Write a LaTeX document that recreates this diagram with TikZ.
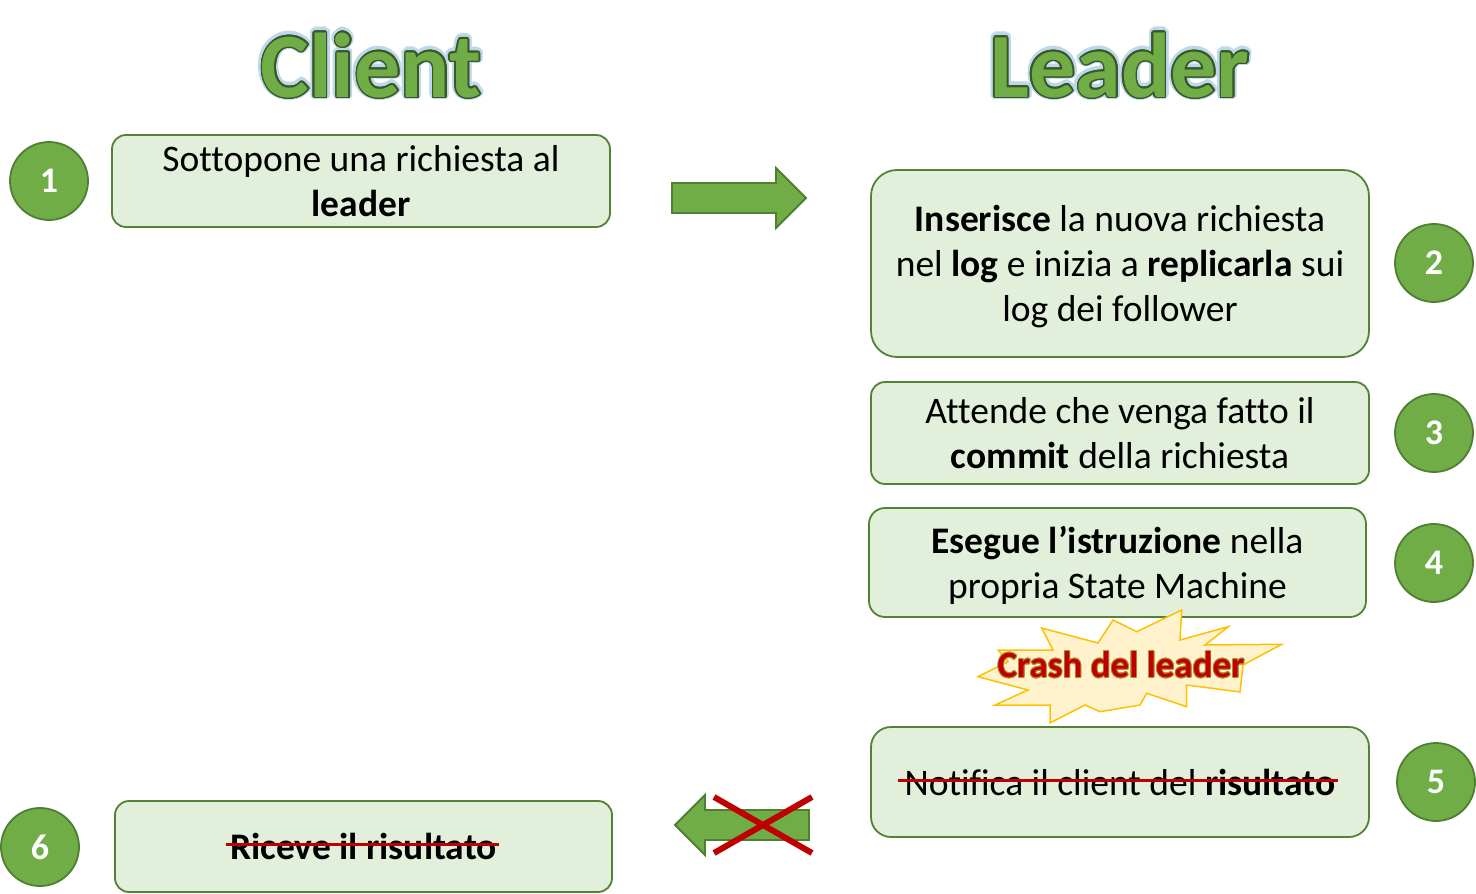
\documentclass[tikz,border=0pt]{standalone}
\usepackage{fontspec}
\setmainfont[Ligatures={NoCommon}]{Carlito}
\usepackage[copies]{contour}
\definecolor{boxfill}{HTML}{E2EFDA}
\definecolor{boxline}{HTML}{548235}
\definecolor{greenfill}{HTML}{70AD47}
\definecolor{greenline}{HTML}{507E32}
\definecolor{titleline}{HTML}{385723}
\definecolor{glow}{HTML}{BDD7EE}
\definecolor{crashred}{HTML}{C00000}
\definecolor{starfill}{HTML}{FFF2CC}
\definecolor{starline}{HTML}{FFC000}
\definecolor{crashglow}{HTML}{B09030}
\tikzset{
  stepbox/.style={draw=boxline, fill=boxfill, line width=1.8pt, rounded corners=#1, inner sep=0pt},
  stepbox/.default=16pt,
  btext/.style={inner sep=0pt, align=center, font=\fontsize{37.5}{45}\selectfont},
  numcircle/.style={circle, draw=greenline, fill=greenfill, line width=1.8pt, minimum size=78pt, inner sep=0pt, text=white, font=\fontsize{36}{40}\selectfont\bfseries},
  blockarrow/.style={draw=greenline, fill=greenfill, line width=1.8pt, line join=miter},
  redcross/.style={draw=crashred, line width=6pt},
  strike/.style={draw=crashred, line width=3pt},
  titlefont/.style={inner sep=0pt, font=\fontsize{92}{100}\selectfont\bfseries}
}
\begin{document}
\begin{tikzpicture}[x=1pt,y=-1pt]
\useasboundingbox (0,0) rectangle (1476,894);
% titles
\node[titlefont, text=glow] (clientglow) at (371,66) {\contourlength{4pt}\contour{glow}{Client}};
\node[titlefont, text=greenfill] (client) at (371,66) {\contourlength{1.6pt}\contour{titleline}{Client}};
\node[titlefont, text=glow] (leaderglow) at (1120,66) {\contourlength{4pt}\contour{glow}{Leader}};
\node[titlefont, text=greenfill] (leader) at (1120,66) {\contourlength{1.6pt}\contour{titleline}{Leader}};
% boxes
\node[stepbox=14pt, minimum width=498pt, minimum height=92pt] (b1) at (361,181) {};
\node[btext] (t1) at (b1.center) {Sottopone una richiesta al\\\textbf{leader}};
\node[stepbox=26pt, minimum width=498pt, minimum height=187pt] (b2) at (1120,263.5) {};
\node[btext] (t2) at ([yshift=-3pt]b2.center) {\textbf{Inserisce} la nuova richiesta\\nel \textbf{log} e inizia a \textbf{replicarla} sui\\log dei follower};
\node[stepbox=14pt, minimum width=498pt, minimum height=102pt] (b3) at (1120,433) {};
\node[btext] (t3) at (b3.center) {Attende che venga fatto il\\\textbf{commit} della richiesta};
\node[stepbox=16pt, minimum width=497pt, minimum height=109pt] (b4) at (1117.5,562.5) {};
\node[btext] (t4) at ([yshift=-3pt]b4.center) {\textbf{Esegue l’istruzione} nella\\propria State Machine};
\node[stepbox=20pt, minimum width=498pt, minimum height=110pt] (b5) at (1120,782) {};
\node[btext] (t5) at (b5.center) {Notifica il client del \textbf{risultato}};
\node[stepbox=14pt, minimum width=497pt, minimum height=91pt] (b6) at (363.5,846.5) {};
\node[btext] (t6) at (b6.center) {\textbf{Riceve il risultato}};
% strikes
\draw[strike] ([xshift=-6pt,yshift=2pt]t5.west) -- ([xshift=2pt,yshift=2pt]t5.east);
\draw[strike] ([xshift=-4pt,yshift=2pt]t6.west) -- ([xshift=2pt,yshift=2pt]t6.east);
% circles
\node[numcircle] (c1) at (49,181) {1};
\node[numcircle] (c2) at (1434,263) {2};
\node[numcircle] (c3) at (1434,433) {3};
\node[numcircle] (c4) at (1434,563) {4};
\node[numcircle] (c5) at (1436,782) {5};
\node[numcircle] (c6) at (40,847) {6};
% arrows
\draw[blockarrow] (672,183) -- (776,183) -- (776,168) -- (806,198) -- (776,228) -- (776,213) -- (672,213) -- cycle;
\draw[blockarrow] (809,810) -- (705,810) -- (705,795) -- (675,825) -- (705,855) -- (705,840) -- (809,840) -- cycle;
\coordinate (xa) at (714,797);
\coordinate (xb) at (812,853);
\coordinate (xc) at (714,853);
\coordinate (xd) at (812,797);
\draw[redcross] (xa) -- (xb);
\draw[redcross] (xc) -- (xd);
% crash star
\draw[draw=starline, fill=starfill, line width=1.5pt, line join=miter]
 (1181.7,610) -- (1180,640) -- (1228.3,626.7) -- (1205,645) -- (1281.7,644.3) -- (1243,665)
 -- (1240,692) -- (1186.7,685) -- (1186.7,706.7) -- (1146.7,693.3) -- (1140,705)
 -- (1100,711.7) -- (1085,705) -- (1050,723) -- (1050,705) -- (995,705) -- (1028,690)
 -- (978,676.7) -- (1008,661.7) -- (998,650) -- (1053,650) -- (1041.7,628) -- (1098,643)
 -- (1113,620) -- (1136.7,631.7) -- cycle;
\node[inner sep=0pt, text=crashred, font=\fontsize{37}{40}\selectfont\bfseries] (crash) at (1121,665) {\contourlength{0.8pt}\contour{crashglow}{Crash del leader}};
\end{tikzpicture}
\end{document}
